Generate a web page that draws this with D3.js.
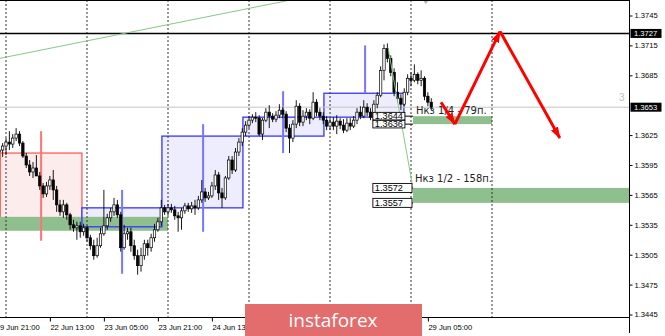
<!DOCTYPE html>
<html lang="ru">
<head>
    <meta charset="utf-8">
    <title>H1 chart</title>
    <style>
        body { margin: 0; background: #fff; }
        svg { display: block; }
    </style>
</head>
<body>
<script src="https://cdnjs.cloudflare.com/ajax/libs/d3/7.9.0/d3.min.js"></script>
<script>

// hourly bars [open, high, low, close], index 0 = 19 Jun 22:00 (weekend skipped)
const candles = [
    [1.3608,1.3615,1.3603,1.3610],[1.3610,1.3617,1.3603,1.3614],[1.3614,1.3622,1.3605,1.3618],[1.3618,1.3629,1.3610,1.3616],
    [1.3616,1.3626,1.3612,1.3622],[1.3622,1.3632,1.3619,1.3626],[1.3626,1.3629,1.3614,1.3617],[1.3617,1.3619,1.3602,1.3604],
    [1.3604,1.3607,1.3592,1.3595],[1.3595,1.3600,1.3584,1.3588],[1.3588,1.3598,1.3582,1.3592],[1.3592,1.3605,1.3584,1.3584],
    [1.3584,1.3588,1.3570,1.3574],[1.3574,1.3577,1.3562,1.3566],[1.3566,1.3578,1.3563,1.3574],[1.3574,1.3584,1.3570,1.3580],
    [1.3580,1.3590,1.3560,1.3570],[1.3570,1.3574,1.3548,1.3555],[1.3555,1.3560,1.3544,1.3548],[1.3548,1.3560,1.3542,1.3555],
    [1.3555,1.3557,1.3540,1.3545],[1.3545,1.3547,1.3530,1.3535],[1.3535,1.3540,1.3528,1.3532],[1.3532,1.3538,1.3520,1.3534],
    [1.3534,1.3538,1.3522,1.3528],[1.3528,1.3536,1.3524,1.3532],[1.3532,1.3534,1.3518,1.3522],[1.3522,1.3525,1.3510,1.3514],
    [1.3514,1.3520,1.3500,1.3504],[1.3504,1.3522,1.3502,1.3514],[1.3514,1.3532,1.3512,1.3526],[1.3526,1.3570,1.3524,1.3534],
    [1.3534,1.3546,1.3530,1.3542],[1.3542,1.3552,1.3538,1.3548],[1.3548,1.3562,1.3544,1.3555],[1.3555,1.3560,1.3542,1.3545],
    [1.3545,1.3548,1.3508,1.3512],[1.3512,1.3535,1.3510,1.3526],[1.3526,1.3532,1.3520,1.3528],[1.3528,1.3532,1.3508,1.3514],
    [1.3514,1.3520,1.3500,1.3504],[1.3504,1.3510,1.3485,1.3494],[1.3494,1.3512,1.3488,1.3504],[1.3504,1.3520,1.3500,1.3516],
    [1.3516,1.3520,1.3504,1.3512],[1.3512,1.3526,1.3508,1.3522],[1.3522,1.3536,1.3518,1.3530],[1.3530,1.3542,1.3528,1.3538],
    [1.3538,1.3560,1.3534,1.3552],[1.3552,1.3555,1.3545,1.3548],[1.3548,1.3556,1.3544,1.3552],[1.3552,1.3556,1.3547,1.3550],
    [1.3550,1.3554,1.3540,1.3544],[1.3544,1.3548,1.3528,1.3542],[1.3542,1.3552,1.3530,1.3549],[1.3549,1.3557,1.3546,1.3554],
    [1.3554,1.3557,1.3548,1.3551],[1.3551,1.3558,1.3547,1.3554],[1.3554,1.3560,1.3545,1.3552],[1.3552,1.3564,1.3550,1.3560],
    [1.3560,1.3580,1.3557,1.3568],[1.3568,1.3572,1.3558,1.3562],[1.3562,1.3568,1.3560,1.3564],[1.3564,1.3578,1.3562,1.3574],
    [1.3574,1.3590,1.3570,1.3585],[1.3585,1.3588,1.3560,1.3567],[1.3567,1.3572,1.3552,1.3562],[1.3562,1.3584,1.3560,1.3582],
    [1.3582,1.3604,1.3580,1.3600],[1.3600,1.3604,1.3586,1.3590],[1.3590,1.3612,1.3588,1.3608],[1.3608,1.3622,1.3604,1.3618],
    [1.3618,1.3632,1.3614,1.3628],[1.3628,1.3639,1.3624,1.3635],[1.3635,1.3644,1.3632,1.3640],[1.3640,1.3646,1.3637,1.3643],
    [1.3643,1.3648,1.3638,1.3642],[1.3642,1.3645,1.3624,1.3626],[1.3626,1.3642,1.3620,1.3640],[1.3640,1.3652,1.3638,1.3648],
    [1.3648,1.3655,1.3632,1.3644],[1.3644,1.3647,1.3638,1.3641],[1.3641,1.3649,1.3638,1.3645],[1.3645,1.3656,1.3642,1.3650],
    [1.3650,1.3653,1.3642,1.3646],[1.3646,1.3649,1.3628,1.3632],[1.3632,1.3636,1.3607,1.3622],[1.3622,1.3640,1.3618,1.3636],
    [1.3636,1.3660,1.3632,1.3654],[1.3654,1.3657,1.3634,1.3638],[1.3638,1.3650,1.3634,1.3644],[1.3644,1.3652,1.3640,1.3648],
    [1.3648,1.3651,1.3636,1.3642],[1.3642,1.3668,1.3640,1.3658],[1.3658,1.3661,1.3644,1.3648],[1.3648,1.3652,1.3640,1.3644],
    [1.3644,1.3648,1.3636,1.3640],[1.3640,1.3644,1.3630,1.3634],[1.3634,1.3642,1.3630,1.3638],[1.3638,1.3643,1.3630,1.3634],
    [1.3634,1.3645,1.3626,1.3639],[1.3639,1.3642,1.3631,1.3635],[1.3635,1.3641,1.3627,1.3630],[1.3630,1.3642,1.3628,1.3637],
    [1.3637,1.3642,1.3630,1.3634],[1.3634,1.3644,1.3632,1.3640],[1.3640,1.3652,1.3636,1.3648],[1.3648,1.3654,1.3641,1.3644],
    [1.3644,1.3660,1.3642,1.3653],[1.3653,1.3657,1.3644,1.3648],[1.3648,1.3652,1.3640,1.3643],[1.3643,1.3660,1.3641,1.3656],
    [1.3656,1.3668,1.3652,1.3665],[1.3665,1.3694,1.3663,1.3690],[1.3690,1.3716,1.3680,1.3712],[1.3712,1.3717,1.3698,1.3702],
    [1.3702,1.3705,1.3684,1.3688],[1.3688,1.3692,1.3664,1.3668],[1.3668,1.3678,1.3658,1.3662],[1.3662,1.3666,1.3650,1.3656],
    [1.3656,1.3672,1.3654,1.3668],[1.3668,1.3686,1.3665,1.3682],[1.3682,1.3688,1.3674,1.3680],[1.3680,1.3696,1.3678,1.3686],
    [1.3686,1.3688,1.3676,1.3680],[1.3680,1.3690,1.3674,1.3682],[1.3682,1.3684,1.3660,1.3664],[1.3664,1.3668,1.3654,1.3658],
    [1.3658,1.3662,1.3650,1.3653]
];

const timeTicks  = [-1, 15, 31, 47, 63, 79, 95, 111, 127];
const timeLabels = ["19 Jun 21:00", "22 Jun 13:00", "23 Jun 05:00", "23 Jun 21:00", "24 Jun 13:00",
                    "25 Jun 05:00", "25 Jun 21:00", "26 Jun 13:00", "29 Jun 05:00"];
const daySeparators = [2, 26, 50, 74, 98, 122, 146];

const priceTicks = [1.3745, 1.3715, 1.3685, 1.3625, 1.3595, 1.3565, 1.3535, 1.3505, 1.3475, 1.3445];
const resistance = 1.3727;
const lastPrice = 1.3653;

// boxes: [from bar, to bar, top price, bottom price]
const redBox  = [0.3, 24.5, 1.3607, 1.3533];
const dayBoxes = [
    [24.5, 48.2, 1.3552, 1.3533],
    [48.2, 72.2, 1.3624, 1.3552],
    [72.2, 96.2, 1.3643, 1.3624],
    [96.2, 119.9, 1.3667, 1.3643]
];
// vertical markers: [bar, top price, bottom price]
const redMarker = [12.4, 1.3629, 1.3519];
const blueMarkers = [
    [36.4, 1.3570, 1.3486],
    [60.4, 1.3636, 1.3528],
    [84.1, 1.3669, 1.3607],
    [108.4, 1.3715, 1.3667]
];
const greenZones = [
    [-2, 50, 1.3543, 1.3529],
    [122.6, 146, 1.3644, 1.3636],
    [122.6, 200, 1.3572, 1.3557]
];
const zoneLevels = [1.3644, 1.3636, 1.3572, 1.3557];
const targetTexts = ["Нкз 1/4 - 79п.", "Нкз 1/2 - 158п."];
const targetAnchors = [[123.5, 1.3646], [123.2, 1.3578]];
const trendLines = [
    [[0.2, 1.3702], [87, 1.3761]],
    [[115.2, 1.3713], [122.3, 1.3577]]
];
const forecast = [[130.9, 1.3658], [135, 1.3636], [148.4, 1.3729], [166.1, 1.3622]];

const width = 665, height = 336;
const plotRight = 629.5, plotBottom = 317.5;

const x = d3.scaleLinear().domain([0, 100]).range([-0.75, 336.75]);
const y = d3.scaleLinear().domain([1.3445, 1.3745]).range([314.5, 15.5]);

const svg = d3.select("body").append("svg")
    .attr("width", width)
    .attr("height", height)
    .style("font-family", "'Liberation Sans', Arial, sans-serif");

svg.append("rect").attr("width", width).attr("height", height).attr("fill", "#fff");

const defs = svg.append("defs");
defs.append("clipPath").attr("id", "plot")
    .append("rect").attr("x", 0).attr("y", 0).attr("width", plotRight).attr("height", plotBottom);

defs.append("marker")
    .attr("id", "arrow")
    .attr("viewBox", "0 0 12 8")
    .attr("refX", 11).attr("refY", 4)
    .attr("markerWidth", 12).attr("markerHeight", 8)
    .attr("markerUnits", "userSpaceOnUse")
    .attr("orient", "auto")
    .append("path").attr("d", "M0,0L12,4L0,8Z").attr("fill", "#ff0000");

const g = svg.append("g").attr("clip-path", "url(#plot)");

// red box of previous day
g.append("rect")
    .attr("x", x(redBox[0])).attr("y", y(redBox[2]))
    .attr("width", x(redBox[1]) - x(redBox[0])).attr("height", y(redBox[3]) - y(redBox[2]))
    .attr("fill", "#fdecec").attr("stroke", "#ff5050").attr("stroke-width", 1.2);

g.selectAll(".dayfill")
    .data(dayBoxes)
    .enter().append("rect")
    .attr("x", d => x(d[0])).attr("y", d => y(d[2]))
    .attr("width", d => x(d[1]) - x(d[0])).attr("height", d => y(d[3]) - y(d[2]))
    .attr("fill", "#ededfd");

g.selectAll(".zone")
    .data(greenZones)
    .enter().append("rect")
    .attr("x", d => x(d[0])).attr("y", d => y(d[2]))
    .attr("width", d => x(d[1]) - x(d[0])).attr("height", d => y(d[3]) - y(d[2]))
    .attr("fill", "#8fbf8f");

g.selectAll(".dayline")
    .data(dayBoxes)
    .enter().append("rect")
    .attr("x", d => x(d[0])).attr("y", d => y(d[2]))
    .attr("width", d => x(d[1]) - x(d[0])).attr("height", d => y(d[3]) - y(d[2]))
    .attr("fill", "none").attr("stroke", "#3535ff").attr("stroke-width", 1.3);

g.selectAll(".sep")
    .data(daySeparators)
    .enter().append("line")
    .attr("x1", d => x(d)).attr("x2", d => x(d))
    .attr("y1", 0).attr("y2", plotBottom)
    .attr("stroke", "#333").attr("stroke-dasharray", "2,2");

g.append("line")
    .attr("x1", x(redMarker[0])).attr("x2", x(redMarker[0]))
    .attr("y1", y(redMarker[1])).attr("y2", y(redMarker[2]))
    .attr("stroke", "#ff7474").attr("stroke-width", 2);

g.selectAll(".mark")
    .data(blueMarkers)
    .enter().append("line")
    .attr("x1", d => x(d[0])).attr("x2", d => x(d[0]))
    .attr("y1", d => y(d[1])).attr("y2", d => y(d[2]))
    .attr("stroke", "#7676ff").attr("stroke-width", 2);

g.append("line")
    .attr("x1", 0).attr("x2", plotRight)
    .attr("y1", y(lastPrice)).attr("y2", y(lastPrice))
    .attr("stroke", "#c4c4c4");

g.append("line")
    .attr("x1", 0).attr("x2", plotRight)
    .attr("y1", y(resistance)).attr("y2", y(resistance))
    .attr("stroke", "#000").attr("stroke-width", 1.6);

// candles
const bar = g.selectAll(".bar")
    .data(candles)
    .enter().append("g");

bar.append("line")
    .attr("x1", (d, i) => x(i)).attr("x2", (d, i) => x(i))
    .attr("y1", d => y(d[1])).attr("y2", d => y(d[2]))
    .attr("stroke", "#000").attr("stroke-width", 0.9);

bar.append("rect")
    .attr("x", (d, i) => x(i) - 1.2)
    .attr("y", d => y(Math.max(d[0], d[3])))
    .attr("width", 2.4)
    .attr("height", d => Math.max(0.8, Math.abs(y(d[0]) - y(d[3]))))
    .attr("fill", d => d[3] >= d[0] ? "#fff" : "#000")
    .attr("stroke", "#000").attr("stroke-width", 0.7);

g.selectAll(".trend")
    .data(trendLines)
    .enter().append("line")
    .attr("x1", d => x(d[0][0])).attr("y1", d => y(d[0][1]))
    .attr("x2", d => x(d[1][0])).attr("y2", d => y(d[1][1]))
    .attr("stroke", "#86c886").attr("stroke-width", 1);

// price labels of the target zones
const boxRight = [120.2, 120.2, 122.3, 122.3];
const lab = g.selectAll(".lvl")
    .data(zoneLevels)
    .enter().append("g");

lab.append("line")
    .attr("x1", (d, k) => x(boxRight[k])).attr("x2", x(122.6))
    .attr("y1", d => y(d)).attr("y2", d => y(d))
    .attr("stroke", "#000");

lab.append("rect")
    .attr("x", x(110.7))
    .attr("y", (d, k) => y(d) - (k < 2 ? 3.8 : 4.5))
    .attr("width", (d, k) => x(boxRight[k]) - x(110.7))
    .attr("height", (d, k) => k < 2 ? 7.6 : 9)
    .attr("fill", "#fff").attr("stroke", "#000").attr("stroke-width", 0.9);

lab.append("text")
    .attr("x", x(110.7) + 2)
    .attr("y", d => y(d) + 3.3)
    .attr("font-size", "9.2px")
    .attr("fill", "#000")
    .text(d => d3.format(".4f")(d));

g.selectAll(".target")
    .data(targetTexts)
    .enter().append("text")
    .attr("x", (d, k) => x(targetAnchors[k][0]))
    .attr("y", (d, k) => y(targetAnchors[k][1]))
    .attr("font-family", "'DejaVu Sans', sans-serif")
    .attr("font-size", "10px")
    .attr("fill", "#222")
    .text(d => d);

g.selectAll(".fc")
    .data(d3.pairs(forecast))
    .enter().append("line")
    .attr("x1", d => x(d[0][0])).attr("y1", d => y(d[0][1]))
    .attr("x2", d => x(d[1][0])).attr("y2", d => y(d[1][1]))
    .attr("stroke", "#ff0000").attr("stroke-width", 3)
    .attr("marker-end", "url(#arrow)");

// chart shift marker and small grey digit
g.append("path")
    .attr("d", `M${x(125.5)},0L${x(125.5) + 6},0L${x(125.5) + 3},4Z`)
    .attr("fill", "#b0b0b0");
g.append("text")
    .attr("x", 619).attr("y", 101)
    .attr("font-size", "10px").attr("fill", "#c0c0c0")
    .text("3");

// frame
svg.append("line").attr("x1", 0).attr("x2", plotRight).attr("y1", 0.5).attr("y2", 0.5).attr("stroke", "#000");
svg.append("line").attr("x1", 0).attr("x2", plotRight).attr("y1", plotBottom).attr("y2", plotBottom).attr("stroke", "#000");
svg.append("line").attr("x1", plotRight).attr("x2", plotRight).attr("y1", 0).attr("y2", 333).attr("stroke", "#000");

// price axis
const gy = svg.append("g")
    .attr("transform", `translate(${plotRight},0)`)
    .call(d3.axisRight(y).tickValues(priceTicks).tickSize(3).tickPadding(2).tickFormat(d3.format(".4f")));
gy.select(".domain").remove();
gy.attr("font-family", "'Liberation Sans', Arial, sans-serif").attr("font-size", 7.6);
gy.selectAll("line").attr("stroke", "#000");
gy.selectAll("text").attr("fill", "#000");

const hl = svg.selectAll(".hl")
    .data([resistance, lastPrice])
    .enter().append("g");
hl.append("rect")
    .attr("x", plotRight + 1).attr("y", d => y(d) - 4.5)
    .attr("width", 31).attr("height", 9)
    .attr("fill", "#000");
hl.append("text")
    .attr("x", plotRight + 4.5).attr("y", d => y(d) + 2.8)
    .attr("font-size", "7.6px").attr("fill", "#fff")
    .text(d => d3.format(".4f")(d));

// time axis
const gx = svg.append("g")
    .attr("transform", `translate(0,${plotBottom})`)
    .call(d3.axisBottom(x).tickValues(timeTicks).tickSize(4).tickPadding(3).tickFormat((d, k) => timeLabels[k]));
gx.select(".domain").remove();
gx.attr("font-family", "'Liberation Sans', Arial, sans-serif").attr("font-size", 7.6);
gx.selectAll("line").attr("stroke", "#000");
gx.selectAll("text").attr("text-anchor", "start").attr("dx", (d, k) => k === 0 ? -0.6 : 0).attr("fill", "#000");

// watermark
svg.append("rect")
    .attr("x", 245).attr("y", 304).attr("width", 177).attr("height", 32)
    .attr("fill", "#e36c6c");
svg.append("text")
    .attr("x", 333).attr("y", 327)
    .attr("text-anchor", "middle")
    .attr("font-family", "'Open Sans', sans-serif")
    .attr("font-size", "19px")
    .attr("fill", "#fff")
    .text("instaforex");

</script>
</body>
</html>
